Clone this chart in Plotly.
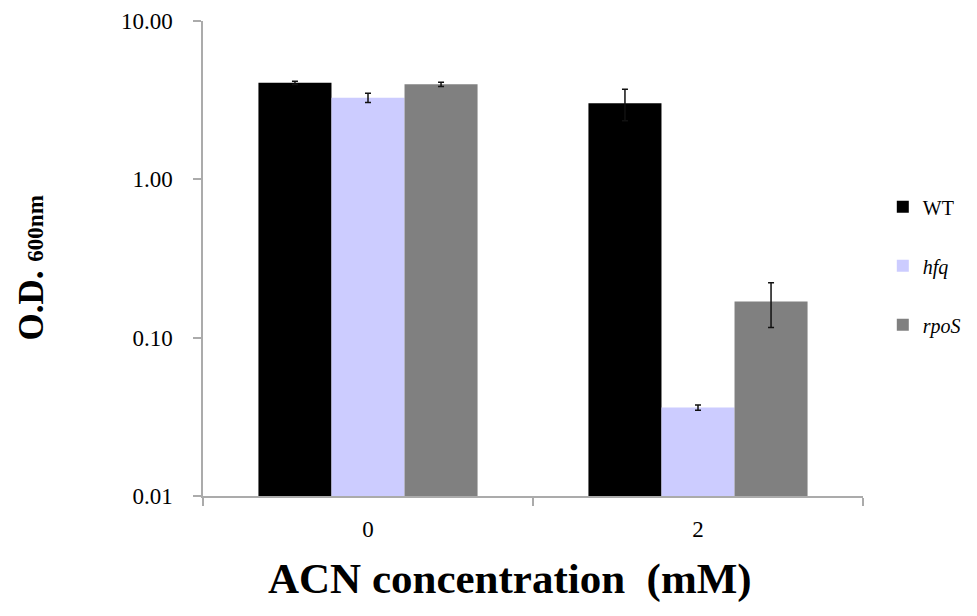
import plotly.graph_objects as go

categories = ["0", "2"]
wt = [4.07, 3.02]
wt_err = [0.10, 0.68]
hfq = [3.28, 0.0362]
hfq_err = [0.22, 0.0014]
rpos = [3.98, 0.169]
rpos_err = [0.12, 0.053]

ytick_vals = [0.01, 0.1, 1, 10]
ytick_text = ["0.01", "0.10", "1.00", "10.00"]

FONT = "Liberation Serif"
AXIS_COLOR = "#ababab"

fig = go.Figure()
series = [
    ("WT", wt, wt_err, "#000000"),
    ("<i>hfq</i>", hfq, hfq_err, "#ccccff"),
    ("<i>rpoS</i>", rpos, rpos_err, "#808080"),
]
for i, (name, vals, errs, color) in enumerate(series):
    fig.add_trace(go.Bar(
        x=categories, y=vals, name=name,
        marker=dict(color=color, line=dict(width=0)),
        error_y=dict(type="data", array=errs, visible=True,
                     color="#111111", thickness=1.5, width=3),
        legendgroup=f"g{i}",
    ))

fig.update_layout(
    width=977, height=616,
    margin=dict(l=195, r=122, t=13, b=128, autoexpand=False),
    paper_bgcolor="white", plot_bgcolor="white",
    barmode="group", bargap=0.336, bargroupgap=0,
    font=dict(family=FONT, color="#000000"),
    showlegend=True,
    legend=dict(x=1.03, xanchor="left", y=0.65, yanchor="top",
                font=dict(family=FONT, size=20, color="#000000"),
                tracegroupgap=30, bgcolor="rgba(0,0,0,0)"),
)

fig.update_xaxes(
    type="category", range=[-0.5, 1.5],
    showline=True, linecolor=AXIS_COLOR, linewidth=1.5,
    ticks="outside", tickson="boundaries", ticklen=8, tickcolor=AXIS_COLOR, tickwidth=1.5,
    tickfont=dict(family=FONT, size=23, color="#000000"),
    ticklabelstandoff=12,
    showgrid=False, zeroline=False,
)
fig.update_yaxes(
    type="log", range=[-2, 1],
    tickvals=ytick_vals, ticktext=ytick_text,
    showline=True, linecolor=AXIS_COLOR, linewidth=1.5,
    ticks="outside", ticklen=8, tickcolor=AXIS_COLOR, tickwidth=1.5,
    tickfont=dict(family=FONT, size=23, color="#000000"),
    ticklabelstandoff=16,
    showgrid=False, zeroline=False,
)

fig.add_annotation(
    text="<b>O.D. <span style='font-size:23px'>600nm</span></b>",
    xref="paper", yref="paper", x=-0.26, y=0.48,
    xanchor="center", yanchor="middle", textangle=-90, showarrow=False,
    font=dict(family=FONT, size=35, color="#000000"),
)
fig.add_annotation(
    text="<b>ACN concentration  (mM)</b>",
    xref="paper", yref="paper", x=0.465, y=-0.175,
    xanchor="center", yanchor="middle", showarrow=False,
    font=dict(family=FONT, size=43, color="#000000"),
)

fig.write_html("out.html")
